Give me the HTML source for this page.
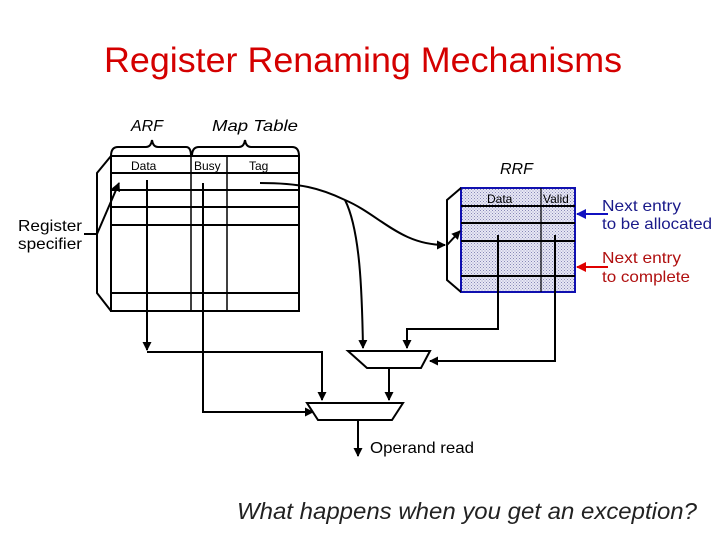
<!DOCTYPE html>
<html><head><meta charset="utf-8"><style>
body{margin:0;background:#fff;width:720px;height:540px;overflow:hidden;font-family:"Liberation Sans",sans-serif}
</style></head><body>
<svg width="720" height="540" xmlns="http://www.w3.org/2000/svg" font-family="Liberation Sans, sans-serif">
<defs>
<pattern id="dots" width="3" height="3" patternUnits="userSpaceOnUse"><rect width="3" height="3" fill="#e8e8f4"/><rect width="1" height="1" fill="#8888b8"/><rect x="1.5" y="1.5" width="1" height="1" fill="#9a9ac4"/></pattern>
<marker id="ar" markerWidth="9" markerHeight="9" refX="8" refY="4.5" orient="auto" markerUnits="userSpaceOnUse"><path d="M0,0 L9,4.5 L0,9 z" fill="#000"/></marker>
<marker id="ab" markerWidth="10" markerHeight="10" refX="9" refY="5" orient="auto" markerUnits="userSpaceOnUse"><path d="M0,0 L10,5 L0,10 z" fill="#1010c0"/></marker>
<marker id="ared" markerWidth="10" markerHeight="10" refX="9" refY="5" orient="auto" markerUnits="userSpaceOnUse"><path d="M0,0 L10,5 L0,10 z" fill="#e00000"/></marker>
</defs>
<text x="104" y="72" font-size="35" fill="#d40000" textLength="518" lengthAdjust="spacingAndGlyphs">Register Renaming Mechanisms</text>
<text x="131" y="131" font-size="16" font-style="italic">ARF</text>
<text x="212" y="131" font-size="16" font-style="italic" textLength="86" lengthAdjust="spacingAndGlyphs">Map Table</text>
<text x="500" y="174" font-size="16" font-style="italic">RRF</text>
<g fill="none" stroke="#000" stroke-width="2">
<path d="M111,156 Q111,147 118,147 L146,147 Q151,147 152,140 Q153,147 158,147 L186,147 Q191,147 191,156"/>
<path d="M192,156 Q192,147 199,147 L239,147 Q244,147 245,140 Q246,147 251,147 L292,147 Q299,147 299,156"/>
</g>
<g stroke="#000" fill="none">
<rect x="111" y="156" width="188" height="155" stroke-width="2"/>
<g stroke-width="2"><line x1="111" y1="173" x2="299" y2="173"/><line x1="111" y1="190" x2="299" y2="190"/><line x1="111" y1="207" x2="299" y2="207"/><line x1="111" y1="225" x2="299" y2="225"/><line x1="111" y1="293" x2="299" y2="293"/></g>
<line x1="191" y1="156" x2="191" y2="311" stroke-width="1.5"/>
<line x1="227" y1="156" x2="227" y2="311" stroke-width="1.5"/>
<path d="M111,156 L97,173 L97,293 L111,311" stroke-width="2"/>
</g>
<text x="131" y="170" font-size="12">Data</text>
<text x="194" y="170" font-size="12">Busy</text>
<text x="249" y="170" font-size="12">Tag</text>
<text x="18" y="231" font-size="16" textLength="64" lengthAdjust="spacingAndGlyphs">Register</text>
<text x="18" y="249" font-size="16" textLength="64" lengthAdjust="spacingAndGlyphs">specifier</text>
<g stroke="#000" fill="none" stroke-width="2">
<line x1="84" y1="234" x2="97" y2="234"/>
<line x1="97" y1="234" x2="119" y2="183" marker-end="url(#ar)"/>
<polyline points="147,180 147,350" marker-end="url(#ar)"/>
<polyline points="147,352 322,352 322,400" marker-end="url(#ar)"/>
<polyline points="203,183 203,412 313,412" marker-end="url(#ar)"/>
<path d="M260,183 C300,183 320,188 345,200 C380,215 400,245 445,245" marker-end="url(#ar)"/>
<path d="M345,200 C360,230 362,290 363,348" marker-end="url(#ar)"/>
</g>
<rect x="461" y="188" width="114" height="104" fill="url(#dots)" stroke="#1010b0" stroke-width="2"/>
<g stroke="#000" stroke-width="2"><line x1="461" y1="206" x2="575" y2="206"/><line x1="461" y1="223" x2="575" y2="223"/><line x1="461" y1="241" x2="575" y2="241"/><line x1="461" y1="276" x2="575" y2="276"/></g>
<line x1="541" y1="188" x2="541" y2="292" stroke="#000" stroke-width="1.2"/>
<text x="487" y="203" font-size="12">Data</text>
<text x="543" y="203" font-size="12">Valid</text>
<g stroke="#000" fill="none" stroke-width="2">
<path d="M461,188 L447,200 L447,280 L461,292"/>
<line x1="447" y1="245" x2="460" y2="231" marker-end="url(#ar)"/>
<polyline points="498,235 498,329 407,329 407,348" marker-end="url(#ar)"/>
<polyline points="555,235 555,361 430,361" marker-end="url(#ar)"/>
<polygon points="348,351 430,351 421,368 367,368"/>
<line x1="389" y1="368" x2="389" y2="400" marker-end="url(#ar)"/>
<polygon points="307,403 403,403 392,420 318,420"/>
<line x1="358" y1="420" x2="358" y2="456" marker-end="url(#ar)"/>
</g>
<text x="370" y="453" font-size="16" textLength="104" lengthAdjust="spacingAndGlyphs">Operand read</text>
<line x1="608" y1="214" x2="577" y2="214" stroke="#1010c0" stroke-width="2" marker-end="url(#ab)"/>
<line x1="608" y1="267" x2="577" y2="267" stroke="#e00000" stroke-width="2" marker-end="url(#ared)"/>
<text x="602" y="211" font-size="16" fill="#1a1a8a" textLength="79" lengthAdjust="spacingAndGlyphs">Next entry</text>
<text x="602" y="229" font-size="16" fill="#1a1a8a" textLength="110" lengthAdjust="spacingAndGlyphs">to be allocated</text>
<text x="602" y="263" font-size="16" fill="#b01010" textLength="79" lengthAdjust="spacingAndGlyphs">Next entry</text>
<text x="602" y="282" font-size="16" fill="#b01010" textLength="88" lengthAdjust="spacingAndGlyphs">to complete</text>
<text x="237" y="519" font-size="23" font-style="italic" fill="#222" textLength="460" lengthAdjust="spacingAndGlyphs">What happens when you get an exception?</text>
</svg>
</body></html>
